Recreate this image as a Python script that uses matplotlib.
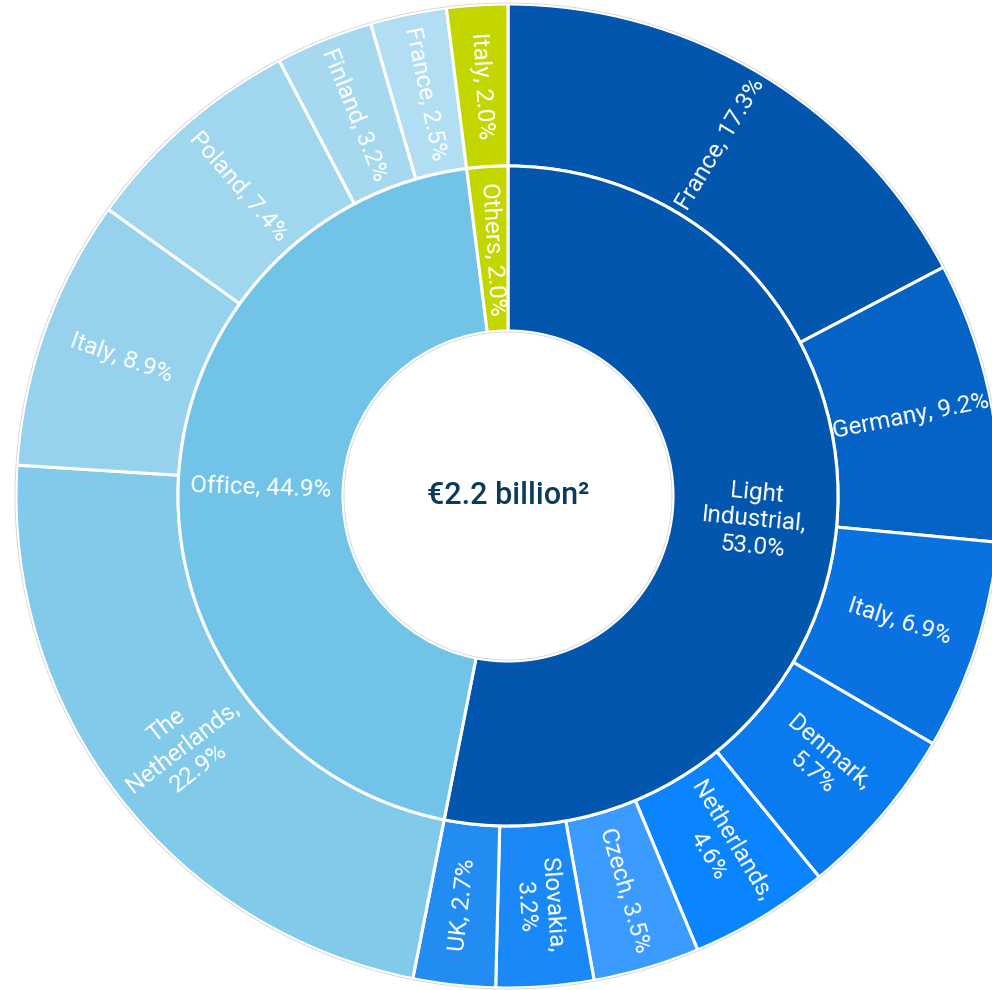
import numpy as np
import matplotlib
matplotlib.use('Agg')
import matplotlib.pyplot as plt

# Inner ring: property sectors (shares as printed).
sector_names = ['Light\nIndustrial', 'Office', 'Others']
sector_shares = [53.0, 44.9, 2.0]
sector_colors = ['#0356ad', '#71c4e7', '#c4d600']

# Outer ring: countries, clockwise from 12 o'clock, with their sector index.
country_names = ['France', 'Germany', 'Italy', 'Denmark', 'Netherlands', 'Czech',
                 'Slovakia', 'UK',
                 'The\nNetherlands', 'Italy', 'Poland', 'Finland', 'France',
                 'Italy']
country_values = [17.3, 9.2, 6.9, 5.7, 4.6, 3.5, 3.2, 2.7,
                  22.9, 8.9, 7.4, 3.2, 2.5,
                  2.0]
country_sector = [0, 0, 0, 0, 0, 0, 0, 0,
                  1, 1, 1, 1, 1,
                  2]
country_colors = ['#0356ad', '#0563c6', '#0a72e0', '#0a7bee', '#0a84ff', '#3c9bff',
                  '#1a88f6', '#228cf2',
                  '#82cae9', '#96d2ed', '#a0d7ee', '#a6d9ef', '#b1def2',
                  '#c4d600']
# Labels where the value goes onto a new line.
wrapped = {'Denmark', 'Netherlands', 'Slovakia', 'The\nNetherlands'}

total_label = '€2.2 billion²'

plt.rcParams['font.family'] = ['Roboto', 'DejaVu Sans']

R_OUT, R_MID, R_IN = 492, 330, 165
CX, CY = 508, 496          # centre of the rings in pixels (from top-left)
W, H = 992, 990

fig = plt.figure(figsize=(W / 100, H / 100), dpi=100)
ax = fig.add_axes([0, 0, 1, 1])

edge = dict(edgecolor='white', linewidth=2.2)
ax.pie(country_values, radius=R_OUT, startangle=90, counterclock=False,
       colors=country_colors, wedgeprops=dict(width=R_OUT - R_MID, **edge))

# inner sectors take the size of their children so the rings line up
sector_sizes = np.bincount(country_sector, weights=country_values)
ax.pie(sector_sizes, radius=R_MID, startangle=90, counterclock=False,
       colors=sector_colors, wedgeprops=dict(width=R_MID - R_IN, **edge))

# faint grey outline round the outer edge and the hole
for r in (R_OUT + 1, R_IN - 1):
    ax.add_patch(plt.Circle((0, 0), r, fill=False, ec='#d4d4d4', lw=0.6))


def ring_labels(values, texts, r, size):
    values = np.asarray(values, dtype=float)
    ends = np.cumsum(values) / values.sum() * 360
    mids = ends - values / values.sum() * 180
    for t, m in zip(texts, mids):
        phi = 90 - m
        x, y = r * np.cos(np.radians(phi)), r * np.sin(np.radians(phi))
        rot = phi if m < 180 else phi + 180
        ax.text(x, y, t, rotation=rot, rotation_mode='anchor', ha='center',
                va='center', multialignment='center', color='white',
                fontsize=size, linespacing=1.2)


country_texts = [f"{n},{chr(10) if n in wrapped else ' '}{v:.1f}%"
                 for n, v in zip(country_names, country_values)]
ring_labels(country_values, country_texts, (R_OUT + R_MID) / 2, 17.5)

sector_texts = [f"{n},{chr(10) if chr(10) in n else ' '}{v:.1f}%"
                for n, v in zip(sector_names, sector_shares)]
ring_labels(sector_sizes, sector_texts, (R_MID + R_IN) / 2, 17.5)

ax.text(0, 0, total_label, ha='center', va='center', color='#0b3a5c',
        fontsize=22, fontweight='medium')

ax.set_xlim(-CX, W - CX)
ax.set_ylim(-(H - CY), CY)
ax.set_aspect('equal')
ax.axis('off')

fig.savefig('out.png', dpi=100, facecolor='white')
